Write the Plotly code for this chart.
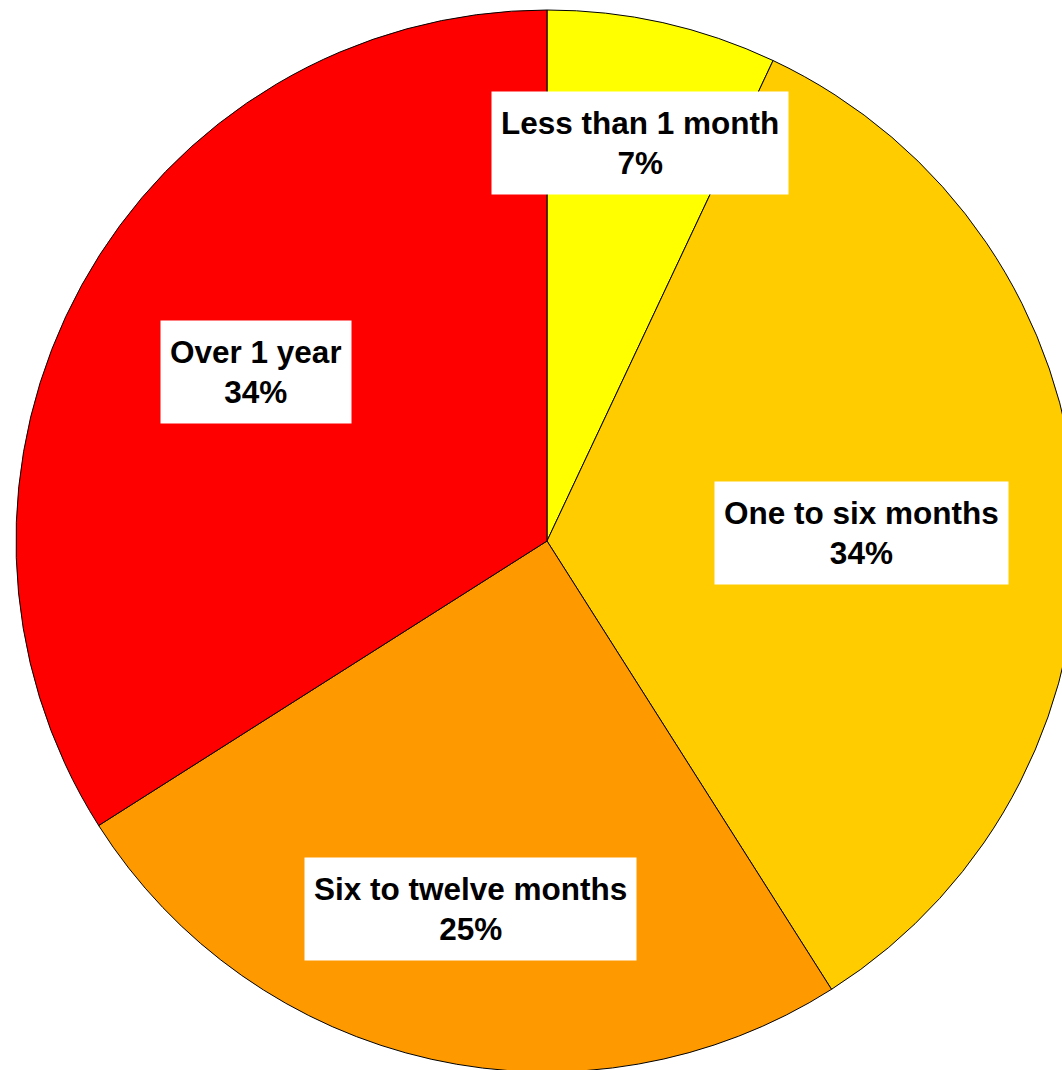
import math
import plotly.graph_objects as go

# Time-to-resolution breakdown
categories = ["Less than 1 month", "One to six months", "Six to twelve months", "Over 1 year"]
shares = [7, 34, 25, 34]
slice_colors = ["#FFFF00", "#FFCC00", "#FF9900", "#FF0000"]

# Canvas and pie geometry (pixels); the pie runs slightly past the right/bottom edge
W, H = 1094, 1082
CX, CY, R = 547, 541, 531

# Label placement: fraction of radius from the centre, plus a small angular nudge (deg)
label_radius = [0.770, 0.593, 0.708, 0.633]
label_nudge = [0.6, 2.1, -0.8, 1.3]

fig = go.Figure(
    go.Pie(
        labels=categories,
        values=shares,
        sort=False,
        direction="clockwise",
        rotation=0,
        marker=dict(colors=slice_colors, line=dict(color="#000000", width=1)),
        textinfo="none",
        hoverinfo="label+percent",
        showlegend=False,
        domain=dict(
            x=[(CX - R) / W, (CX + R) / W],
            y=[(H - CY - R) / H, (H - CY + R) / H],
        ),
    )
)

# White boxed labels placed at each slice's mid-angle
total = sum(shares)
cum = 0
for name, v, rf, nudge in zip(categories, shares, label_radius, label_nudge):
    mid = (cum + v / 2) / total * 360 + nudge
    cum += v
    th = math.radians(mid)
    px = CX + rf * R * math.sin(th)
    py = CY - rf * R * math.cos(th)
    fig.add_annotation(
        x=px / W,
        y=1 - py / H,
        xref="paper",
        yref="paper",
        xanchor="center",
        yanchor="middle",
        text=f"<b>{name}</b><br><b>{round(v / total * 100)}%</b>",
        showarrow=False,
        font=dict(family="Liberation Sans, Arial, sans-serif", size=31.5, color="#000000"),
        bgcolor="#FFFFFF",
        borderpad=9,
        height=84,
        valign="middle",
        align="center",
    )

fig.update_layout(
    width=W,
    height=H,
    autosize=False,
    margin=dict(l=0, r=0, t=0, b=0),
    paper_bgcolor="#FFFFFF",
    plot_bgcolor="#FFFFFF",
)

fig.write_html(
    "out.html",
    post_script="document.body.style.overflow='hidden';document.documentElement.style.overflow='hidden';",
)
